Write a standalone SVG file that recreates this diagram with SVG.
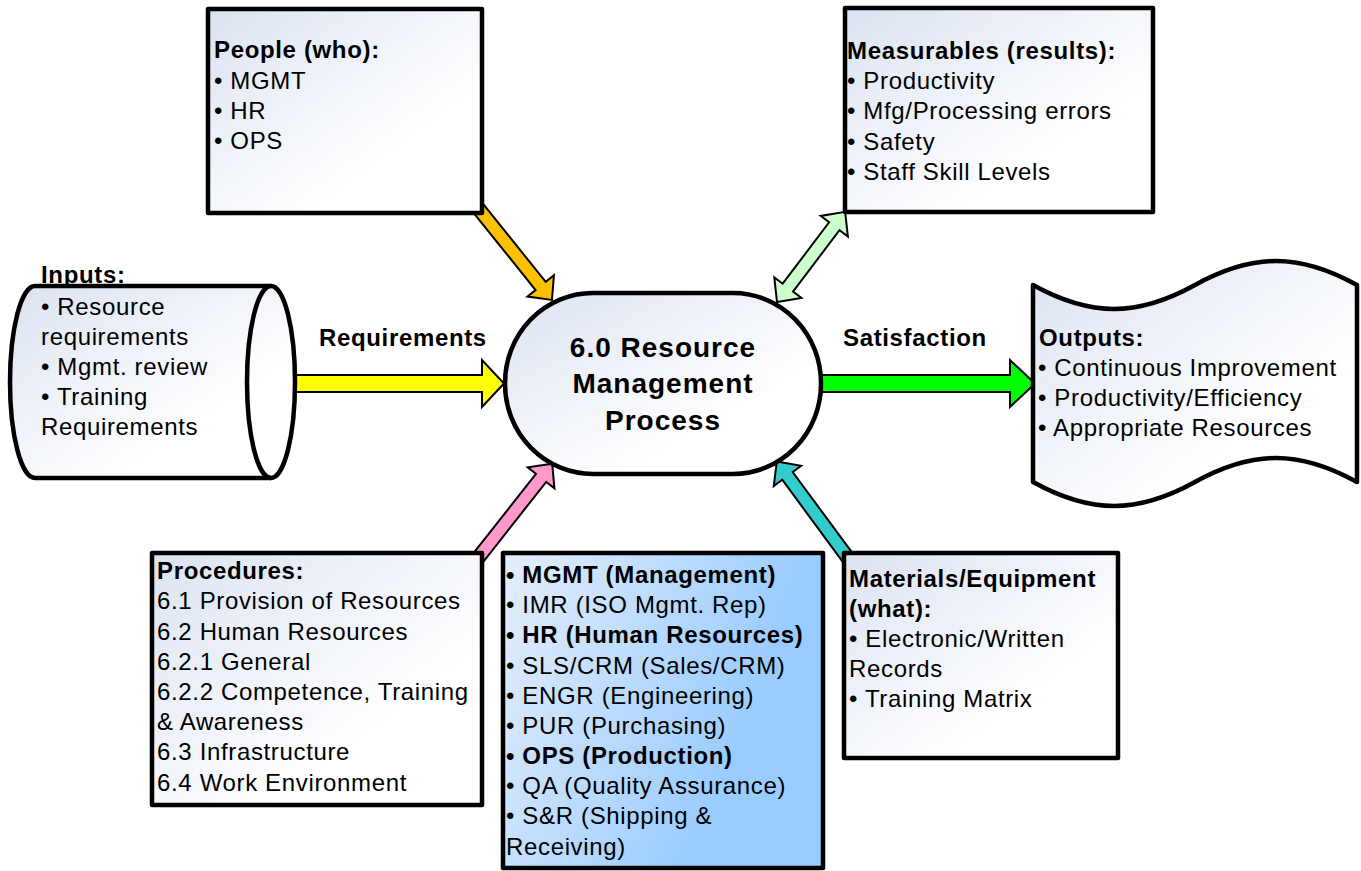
<svg xmlns="http://www.w3.org/2000/svg" width="1361" height="871" viewBox="0 0 1361 871">
<defs>
<linearGradient id="gw" x1="0" y1="0" x2="1" y2="1">
<stop offset="0" stop-color="#dbe3f1"/>
<stop offset="0.7" stop-color="#ffffff"/>
</linearGradient>
<linearGradient id="gb" x1="0" y1="0" x2="1" y2="0.4">
<stop offset="0" stop-color="#e6eefa"/>
<stop offset="0.85" stop-color="#99ccff"/>
</linearGradient>
<style>
.box{stroke:#000;stroke-width:4.5;stroke-linejoin:round;fill:url(#gw)}
.arr{stroke:#000;stroke-width:2;stroke-linejoin:miter}
text{font-family:"Liberation Sans",Arial,sans-serif;font-size:24px;letter-spacing:0.65px;fill:#000}
.b{font-weight:bold}
.c{font-size:28px;font-weight:bold;letter-spacing:1px;text-anchor:middle}
</style>
</defs>
<rect width="1361" height="871" fill="#fff"/>

<g id="connectors">
<polygon class="arr" fill="#ffff00" points="290,375 482,375 482,360 504,383.5 482,407 482,392 290,392"/>
<polygon class="arr" fill="#00ff00" points="818,375 1010,375 1010,360 1035,383.5 1010,407 1010,392 818,392"/>
<polygon class="arr" fill="#ffc000" transform="translate(478,208) rotate(51.2)" points="0,-6.5 100,-6.5 100,-17 118,0 100,17 100,6.5 0,6.5"/>
<polygon class="arr" fill="#ccffcc" transform="translate(777,302) rotate(-52.9)" points="0,0 18,-17 18,-6.5 95,-6.5 95,-17 113,0 95,17 95,6.5 18,6.5 18,17"/>
<polygon class="arr" fill="#ff99cc" transform="translate(478,558) rotate(-51.8)" points="0,-6.5 102,-6.5 102,-17 120,0 102,17 102,6.5 0,6.5"/>
<polygon class="arr" fill="#33cccc" transform="translate(848,558) rotate(-126.4)" points="0,-6.5 102,-6.5 102,-17 120,0 102,17 102,6.5 0,6.5"/>
<text class="b" x="319" y="346">Requirements</text>
<text class="b" x="843" y="346">Satisfaction</text>
</g>

<g id="people">
<rect class="box" x="208" y="9" width="274" height="204"/>
<text class="b" x="214" y="58">People (who):</text>
<text x="214" y="89">• MGMT</text>
<text x="214" y="119">• HR</text>
<text x="214" y="149">• OPS</text>
</g>

<g id="measurables">
<rect class="box" x="845" y="8" width="308" height="204"/>
<text class="b" x="847" y="59">Measurables (results):</text>
<text x="847" y="89">• Productivity</text>
<text x="847" y="119">• Mfg/Processing errors</text>
<text x="847" y="150">• Safety</text>
<text x="847" y="180">• Staff Skill Levels</text>
</g>

<g id="inputs">
<path class="box" d="M35,286 L271,286 A24,96 0 0 1 271,478 L35,478 A25,96 0 0 1 35,286 Z"/>
<path d="M271,286 A24,96 0 0 0 271,478" fill="none" stroke="#000" stroke-width="4.5"/>
<text class="b" x="41" y="283">Inputs:</text>
<text x="41" y="315">• Resource</text>
<text x="41" y="345">requirements</text>
<text x="41" y="375">• Mgmt. review</text>
<text x="41" y="405">• Training</text>
<text x="41" y="435">Requirements</text>
</g>

<g id="process">
<rect class="box" x="505" y="293" width="316" height="181" rx="88" ry="90"/>
<text class="c" x="663" y="357">6.0 Resource</text>
<text class="c" x="663" y="393">Management</text>
<text class="c" x="663" y="430">Process</text>
</g>

<g id="outputs">
<path class="box" d="M1033,285 C1091,317 1137,317 1195,285 C1253,253 1299,253 1357,285 L1357,482 C1299,450 1253,450 1195,482 C1137,514 1091,514 1033,482 Z"/>
<text class="b" x="1039" y="346">Outputs:</text>
<text x="1038" y="376">• Continuous Improvement</text>
<text x="1038" y="406">• Productivity/Efficiency</text>
<text x="1038" y="436">• Appropriate Resources</text>
</g>

<g id="procedures">
<rect class="box" x="152" y="553" width="330" height="252"/>
<text class="b" x="157" y="579">Procedures:</text>
<text x="157" y="609">6.1 Provision of Resources</text>
<text x="157" y="640">6.2 Human Resources</text>
<text x="157" y="670">6.2.1 General</text>
<text x="157" y="700">6.2.2 Competence, Training</text>
<text x="157" y="730">&amp; Awareness</text>
<text x="157" y="760">6.3 Infrastructure</text>
<text x="157" y="791">6.4 Work Environment</text>
</g>

<g id="departments">
<rect class="box" x="503" y="553" width="320" height="315" style="fill:url(#gb)"/>
<text class="b" x="506" y="583">• MGMT (Management)</text>
<text x="506" y="613">• IMR (ISO Mgmt. Rep)</text>
<text class="b" x="506" y="643">• HR (Human Resources)</text>
<text x="506" y="674">• SLS/CRM (Sales/CRM)</text>
<text x="506" y="704">• ENGR (Engineering)</text>
<text x="506" y="734">• PUR (Purchasing)</text>
<text class="b" x="506" y="764">• OPS (Production)</text>
<text x="506" y="794">• QA (Quality Assurance)</text>
<text x="506" y="824">• S&amp;R (Shipping &amp;</text>
<text x="506" y="855">Receiving)</text>
</g>

<g id="materials">
<rect class="box" x="844" y="553" width="274" height="205"/>
<text class="b" x="849" y="587">Materials/Equipment</text>
<text class="b" x="849" y="617">(what):</text>
<text x="849" y="647">• Electronic/Written</text>
<text x="849" y="677">Records</text>
<text x="849" y="707">• Training Matrix</text>
</g>
</svg>
